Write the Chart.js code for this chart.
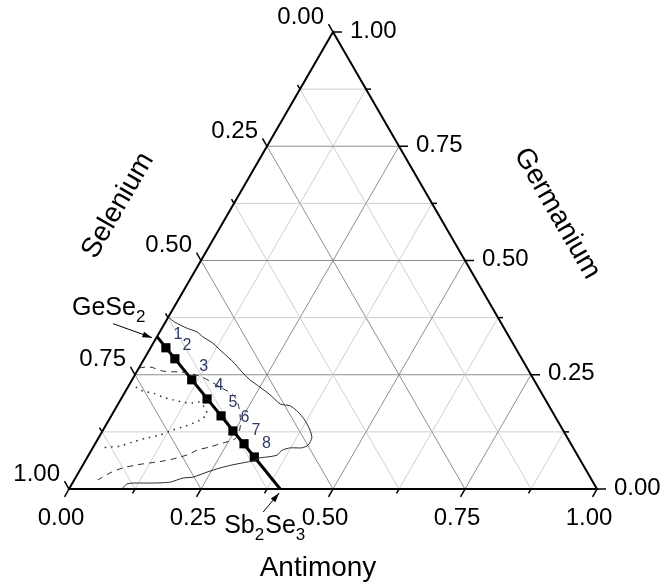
<!DOCTYPE html>
<html>
<head>
<meta charset="utf-8">
<script src="https://cdn.jsdelivr.net/npm/chart.js@4.4.1/dist/chart.umd.min.js"></script>
<style>
  html, body { margin: 0; padding: 0; background: #fff; }
  canvas { display: block; }
</style>
</head>
<body>
<canvas id="chart" width="662" height="585"></canvas>
<script>
// ternary grid + tick labels (same scale on all three axes)
const gridValues = [0.125, 0.25, 0.375, 0.5, 0.625, 0.75, 0.875];
const tickValues = [0, 0.25, 0.5, 0.75, 1];
const tickLabels = ["0.00", "0.25", "0.50", "0.75", "1.00"];

// samples 1-8 on the GeSe2 - Sb2Se3 tie line (fractions of Sb and Ge, Se = rest)
const sampleNames = ["1", "2", "3", "4", "5", "6", "7", "8"];
const sampleSb = [0.029, 0.058, 0.113, 0.163, 0.208, 0.247, 0.282, 0.316];
const sampleGe = [0.309, 0.285, 0.239, 0.197, 0.160, 0.127, 0.099, 0.070];

// tie line ends: GeSe2 and Sb2Se3
const tieSb = [0, 0.4];
const tieGe = [1 / 3, 0];

// glass forming region (solid)
const regionSb = [0.000, 0.018, 0.047, 0.070, 0.087, 0.113, 0.143, 0.172, 0.197, 0.223,
  0.250, 0.278, 0.307, 0.328, 0.349, 0.371, 0.392, 0.404, 0.405, 0.396, 0.374, 0.361,
  0.357, 0.340, 0.327, 0.317, 0.308, 0.284, 0.263, 0.243, 0.222, 0.204, 0.184, 0.153,
  0.115, 0.104, 0.100];
const regionGe = [0.376, 0.365, 0.352, 0.344, 0.333, 0.319, 0.298, 0.278, 0.258, 0.239,
  0.223, 0.206, 0.186, 0.182, 0.169, 0.151, 0.129, 0.112, 0.096, 0.090, 0.090, 0.085,
  0.074, 0.070, 0.068, 0.061, 0.059, 0.053, 0.046, 0.037, 0.026, 0.024, 0.015, 0.013,
  0.013, 0.011, 0.000];

// dashed contour
const dashSb = [0.000, 0.020, 0.049, 0.082, 0.098, 0.124, 0.149, 0.179, 0.208, 0.227,
  0.243, 0.257, 0.261, 0.252, 0.237, 0.221, 0.200, 0.191, 0.171, 0.147, 0.125, 0.103,
  0.079, 0.060, 0.045];
const dashGe = [0.265, 0.267, 0.258, 0.256, 0.254, 0.247, 0.236, 0.221, 0.206, 0.186,
  0.162, 0.134, 0.112, 0.105, 0.099, 0.092, 0.085, 0.077, 0.068, 0.061, 0.057, 0.053,
  0.046, 0.035, 0.020];

// dotted contour
const dotSb = [0.015, 0.033, 0.054, 0.077, 0.100, 0.121, 0.141, 0.153, 0.169, 0.179,
  0.173, 0.163, 0.148, 0.132, 0.113, 0.092, 0.070, 0.050, 0.032, 0.014];
const dotGe = [0.223, 0.214, 0.210, 0.201, 0.195, 0.190, 0.188, 0.190, 0.177, 0.164,
  0.151, 0.144, 0.136, 0.129, 0.118, 0.112, 0.103, 0.094, 0.092, 0.090];

const FONT = "'Liberation Sans', Arial, sans-serif";
const H = Math.sqrt(3) / 2;

function tern(sb, ge) {
  return { x: sb + ge / 2, y: ge * H };
}
function toPoints(sb, ge) {
  return sb.map((v, i) => tern(v, ge[i]));
}

const ternaryFrame = {
  id: "ternaryFrame",
  beforeDatasetsDraw(chart) {
    const { ctx } = chart;
    const sx = chart.scales.x, sy = chart.scales.y;
    const px = (sb, ge) => {
      const p = tern(sb, ge);
      return [sx.getPixelForValue(p.x), sy.getPixelForValue(p.y)];
    };
    const seg = (a, b) => {
      ctx.beginPath();
      ctx.moveTo(a[0], a[1]);
      ctx.lineTo(b[0], b[1]);
      ctx.stroke();
    };
    ctx.save();
    ctx.lineWidth = 1;
    gridValues.forEach(v => {
      ctx.strokeStyle = (v * 4) % 1 === 0 ? "#8e8e8e" : "#cfcfcf";
      seg(px(0, v), px(1 - v, v));
      seg(px(v, 0), px(v, 1 - v));
      seg(px(1 - v, 0), px(0, 1 - v));
    });

    ctx.strokeStyle = "#000";
    ctx.lineWidth = 2;
    ctx.beginPath();
    const a = px(0, 0), b = px(1, 0), c = px(0, 1);
    ctx.moveTo(a[0], a[1]);
    ctx.lineTo(b[0], b[1]);
    ctx.lineTo(c[0], c[1]);
    ctx.closePath();
    ctx.stroke();

    // ticks
    ctx.lineWidth = 1.5;
    [0, ...gridValues, 1].forEach(v => {
      const len = (v * 4) % 1 === 0 ? 9 : 5;
      const dx = 0.5 * len, dy = H * len;
      let p = px(v, 0);
      seg(p, [p[0] - dx, p[1] + dy]);
      p = px(0, 1 - v);
      seg(p, [p[0] - dx, p[1] - dy]);
      p = px(1 - v, v);
      seg(p, [p[0] + len, p[1]]);
    });
    ctx.restore();
  },
  afterDraw(chart) {
    const { ctx } = chart;
    const sx = chart.scales.x, sy = chart.scales.y;
    const px = (sb, ge) => {
      const p = tern(sb, ge);
      return [sx.getPixelForValue(p.x), sy.getPixelForValue(p.y)];
    };
    ctx.save();
    ctx.fillStyle = "#000";
    ctx.font = "24px " + FONT;
    ctx.textBaseline = "middle";
    tickValues.forEach((v, i) => {
      let p = px(v, 0);
      ctx.textAlign = "center";
      ctx.fillText(tickLabels[i], p[0] - 8, p[1] + 29);
      p = px(0, 1 - v);
      ctx.textAlign = "right";
      ctx.fillText(tickLabels[i], p[0] - 9, p[1] - 15);
      p = px(1 - v, v);
      ctx.textAlign = "left";
      ctx.fillText(tickLabels[i], p[0] + 17, p[1] - 1);
    });

    // axis titles
    ctx.font = "28px " + FONT;
    ctx.textAlign = "center";
    let m = px(0.5, 0);
    ctx.fillText("Antimony", m[0] - 15, m[1] + 79);
    m = px(0, 0.5);
    ctx.save();
    ctx.translate(m[0] - 83, m[1] - 55);
    ctx.rotate(-Math.PI / 3);
    ctx.fillText("Selenium", 0, 0);
    ctx.restore();
    m = px(0.5, 0.5);
    ctx.save();
    ctx.translate(m[0] + 92, m[1] - 47);
    ctx.rotate(Math.PI / 3);
    ctx.fillText("Germanium", 0, 0);
    ctx.restore();

    // sample numbers
    ctx.font = "16px " + FONT;
    ctx.fillStyle = "#303a68";
    sampleNames.forEach((s, i) => {
      const p = px(sampleSb[i], sampleGe[i]);
      ctx.fillText(s, p[0] + 12, p[1] - 13);
    });

    // compound labels with arrows
    const formula = (parts, x, y) => {
      ctx.textAlign = "left";
      ctx.textBaseline = "alphabetic";
      let cx = x;
      parts.forEach(([t, sub]) => {
        ctx.font = (sub ? "17px " : "25px ") + FONT;
        ctx.fillText(t, cx, sub ? y + 7 : y);
        cx += ctx.measureText(t).width + (sub ? 1 : 0);
      });
    };
    const arrow = (from, to) => {
      ctx.beginPath();
      ctx.moveTo(from[0], from[1]);
      ctx.lineTo(to[0], to[1]);
      ctx.stroke();
      const ang = Math.atan2(to[1] - from[1], to[0] - from[0]);
      ctx.beginPath();
      ctx.moveTo(to[0], to[1]);
      ctx.lineTo(to[0] - 10 * Math.cos(ang - 0.3), to[1] - 10 * Math.sin(ang - 0.3));
      ctx.lineTo(to[0] - 10 * Math.cos(ang + 0.3), to[1] - 10 * Math.sin(ang + 0.3));
      ctx.closePath();
      ctx.fill();
    };
    ctx.fillStyle = "#000";
    ctx.strokeStyle = "#000";
    ctx.lineWidth = 1;
    let g = px(tieSb[0], tieGe[0]);
    formula([["GeSe", false], ["2", true]], g[0] - 85, g[1] - 22);
    arrow([g[0] - 44, g[1] - 13], [g[0] - 5, g[1] + 1]);
    g = px(tieSb[1], tieGe[1]);
    formula([["Sb", false], ["2", true], ["Se", false], ["3", true]], g[0] - 56, g[1] + 44);
    arrow([g[0] - 17, g[1] + 23], [g[0] - 1, g[1] + 4]);
    ctx.restore();
  }
};

new Chart(document.getElementById("chart"), {
  type: "scatter",
  data: {
    datasets: [
      {
        data: toPoints(regionSb, regionGe),
        showLine: true,
        borderColor: "#2b2b2b",
        borderWidth: 1,
        pointRadius: 0,
        tension: 0.2,
        clip: false
      },
      {
        data: toPoints(dashSb, dashGe),
        showLine: true,
        borderColor: "#2b2b2b",
        borderWidth: 1,
        borderDash: [6, 5],
        pointRadius: 0,
        tension: 0.3,
        clip: false
      },
      {
        data: toPoints(dotSb, dotGe),
        showLine: true,
        borderColor: "#2b2b2b",
        borderWidth: 1.5,
        borderDash: [1.5, 5],
        pointRadius: 0,
        tension: 0.3,
        clip: false
      },
      {
        data: toPoints(tieSb, tieGe),
        showLine: true,
        borderColor: "#000",
        borderWidth: 3,
        pointRadius: 0,
        clip: false
      },
      {
        data: toPoints(sampleSb, sampleGe),
        showLine: false,
        pointStyle: "rect",
        pointRadius: 6.5,
        backgroundColor: "#000",
        borderColor: "#000",
        borderWidth: 0,
        clip: false
      }
    ]
  },
  options: {
    responsive: false,
    animation: false,
    layout: { padding: { left: 69, right: 65, top: 32, bottom: 96 } },
    scales: {
      x: { type: "linear", min: 0, max: 1, display: false },
      y: { type: "linear", min: 0, max: H, display: false }
    },
    plugins: {
      legend: { display: false },
      tooltip: { enabled: false }
    }
  },
  plugins: [ternaryFrame]
});
</script>
</body>
</html>
